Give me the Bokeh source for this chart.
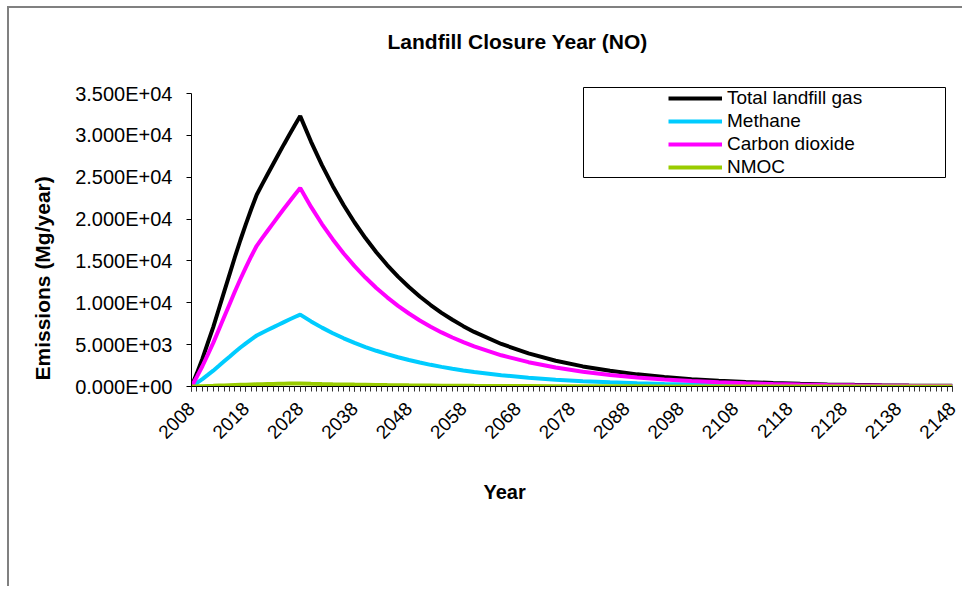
import math
from bokeh.plotting import figure
from bokeh.models import (Range1d, FixedTicker, Legend, LegendItem, Title, BoxAnnotation,
                          LinearAxis)
from bokeh.embed import file_html
from bokeh.resources import INLINE

# ---- data ----
years = [2008, 2009, 2010, 2011, 2012, 2013, 2014, 2015, 2016, 2017, 2018, 2019, 2020,
         2021, 2022, 2023, 2024, 2025, 2026, 2027, 2028,
         2030, 2032, 2034, 2036, 2038, 2040, 2042, 2044, 2046, 2048, 2050, 2052, 2054,
         2056, 2058, 2060,
         2065, 2070, 2075, 2080, 2085, 2090, 2095, 2100, 2105, 2110, 2115, 2120, 2125,
         2130, 2135, 2140, 2145, 2148]

total_gas = [0, 1600, 3300, 5200, 7100, 9200, 11300, 13400, 15500, 17500, 19400, 21200, 22900,
             24150, 25350, 26550, 27750, 28920, 30080, 31200, 32300,
             29230, 26440, 23930, 21650, 19590, 17730, 16040, 14510, 13130, 11880, 10750, 9730, 8800,
             7970, 7210, 6520,
             5080, 3960, 3080, 2400, 1870, 1450, 1130, 880, 690, 540, 415, 325, 250,
             195, 150, 120, 95, 80]

methane = [0, 426, 878, 1383, 1889, 2447, 3006, 3564, 4123, 4655, 5160, 5639, 6091,
           6424, 6743, 7062, 7382, 7693, 8001, 8299, 8592,
           7775, 7033, 6365, 5759, 5211, 4716, 4267, 3860, 3493, 3160, 2860, 2588, 2341,
           2120, 1918, 1734,
           1351, 1053, 819, 638, 497, 386, 301, 234, 184, 144, 110, 86, 67,
           52, 40, 32, 25, 21]

carbon_dioxide = [0, 1174, 2422, 3817, 5211, 6753, 8294, 9836, 11377, 12845, 14240, 15561, 16809,
                  17726, 18607, 19488, 20369, 21227, 22079, 22901, 23708,
                  21455, 19407, 17565, 15891, 14379, 13014, 11773, 10650, 9637, 8720, 7891, 7142, 6459,
                  5850, 5292, 4786,
                  3729, 2907, 2261, 1762, 1373, 1064, 829, 646, 506, 396, 305, 239, 184,
                  143, 110, 88, 70, 59]

nmoc = [0, 18, 38, 60, 82, 106, 130, 154, 178, 201, 223, 244, 263,
        278, 292, 305, 319, 333, 346, 359, 371,
        336, 304, 275, 249, 225, 204, 184, 167, 151, 137, 124, 112, 101,
        92, 83, 75,
        58, 46, 35, 28, 22, 17, 13, 10, 8, 6, 5, 4, 3,
        2, 2, 1, 1, 1]

series_names = ["Total landfill gas", "Methane", "Carbon dioxide", "NMOC"]
series_colors = ["#000000", "#00CCFF", "#FF00FF", "#99CC00"]

x_tick_years = [2008, 2018, 2028, 2038, 2048, 2058, 2068, 2078, 2088, 2098, 2108, 2118, 2128, 2138, 2148]
x_minor_years = list(range(2008, 2149))
y_ticks = [0, 5000, 10000, 15000, 20000, 25000, 30000, 35000]
y_tick_labels = ["0.000E+00", "5.000E+03", "1.000E+04", "1.500E+04",
                 "2.000E+04", "2.500E+04", "3.000E+04", "3.500E+04"]

title_text = "Landfill Closure Year (NO)"
x_title = "Year"
y_title = "Emissions (Mg/year)"

FONT = "Liberation Sans"

# frame extends a little above the top tick so the legend box fits inside it
p = figure(width=955, height=580, output_backend="svg", toolbar_location=None,
           x_range=Range1d(2008, 2148), y_range=Range1d(0, 36195),
           min_border_left=182, min_border_right=12, min_border_top=75, min_border_bottom=202,
           background_fill_color="white", border_fill_color="white", outline_line_color=None,
           title=title_text,
           styles={"border-left": "2px solid #808080", "border-top": "2px solid #808080",
                   "margin-left": "7px", "margin-top": "6px"})

p.xgrid.visible = False
p.ygrid.visible = False

# x axis (bottom)
xa = p.below[0]
xa.ticker = FixedTicker(ticks=x_tick_years, minor_ticks=x_minor_years)
xa.major_label_orientation = math.pi / 4
xa.major_tick_in = 0
xa.major_tick_out = 5
xa.minor_tick_in = 0
xa.minor_tick_out = 5
xa.axis_line_color = "black"
xa.major_tick_line_color = "black"
xa.minor_tick_line_color = "#333333"
xa.major_label_text_font = FONT
xa.major_label_text_font_size = "19px"
xa.major_label_text_color = "black"
xa.major_label_standoff = 14

# y axis
ya = p.left[0]
ya.ticker = FixedTicker(ticks=y_ticks, minor_ticks=[])
ya.bounds = (y_ticks[0], y_ticks[-1])
ya.major_label_overrides = {t: lab for t, lab in zip(y_ticks, y_tick_labels)}
ya.major_tick_in = 0
ya.major_tick_out = 5
ya.minor_tick_out = 0
ya.axis_line_color = "black"
ya.major_tick_line_color = "black"
ya.major_label_text_font = FONT
ya.major_label_text_font_size = "20px"
ya.major_label_text_color = "black"
ya.major_label_standoff = 14

# invisible spacer axis between the frame and the title (one hidden tick gives it height)
spacer_tick = x_tick_years[7]
spacer = LinearAxis(ticker=FixedTicker(ticks=[spacer_tick], minor_ticks=[]), axis_line_color=None,
                    major_tick_out=22, major_tick_in=0, minor_tick_out=0, minor_tick_in=0,
                    major_tick_line_color=None, minor_tick_line_color=None,
                    major_label_overrides={spacer_tick: ""}, major_label_text_font_size="0px",
                    major_label_standoff=0)
p.add_layout(spacer, "above")

# title
p.title.align = "left"
p.title.vertical_align = "bottom"
p.title.offset = 196
p.title.standoff = 17
p.title.text_font = FONT
p.title.text_font_size = "21px"
p.title.text_font_style = "bold"
p.title.text_color = "black"

p.add_layout(Title(text=y_title, align="left", offset=6, standoff=38,
                   text_font=FONT, text_font_size="21px", text_font_style="bold",
                   text_color="black"), "left")
p.add_layout(Title(text=x_title, align="left", offset=292, standoff=62,
                   text_font=FONT, text_font_size="20px", text_font_style="bold",
                   text_color="black"), "below")

renderers = []
for vals, col in zip([total_gas, methane, carbon_dioxide, nmoc], series_colors):
    r = p.line(years, vals, line_color=col, line_width=4)
    renderers.append(r)

legend = Legend(items=[LegendItem(label=n, renderers=[r]) for n, r in zip(series_names, renderers)],
                location=(477, 208), padding=0, spacing=1, margin=0,
                glyph_width=54, glyph_height=20, label_height=20, label_standoff=5,
                label_text_font=FONT, label_text_font_size="19px", label_text_color="black",
                border_line_color=None, background_fill_alpha=0)
p.add_layout(legend, "center")

box = BoxAnnotation(left=392, right=754, bottom=209, top=299,
                    left_units="screen", right_units="screen",
                    top_units="screen", bottom_units="screen",
                    fill_alpha=0, line_color="black", line_width=1, line_alpha=1)
p.add_layout(box)

open("out.html", "w").write(file_html(p, INLINE))
